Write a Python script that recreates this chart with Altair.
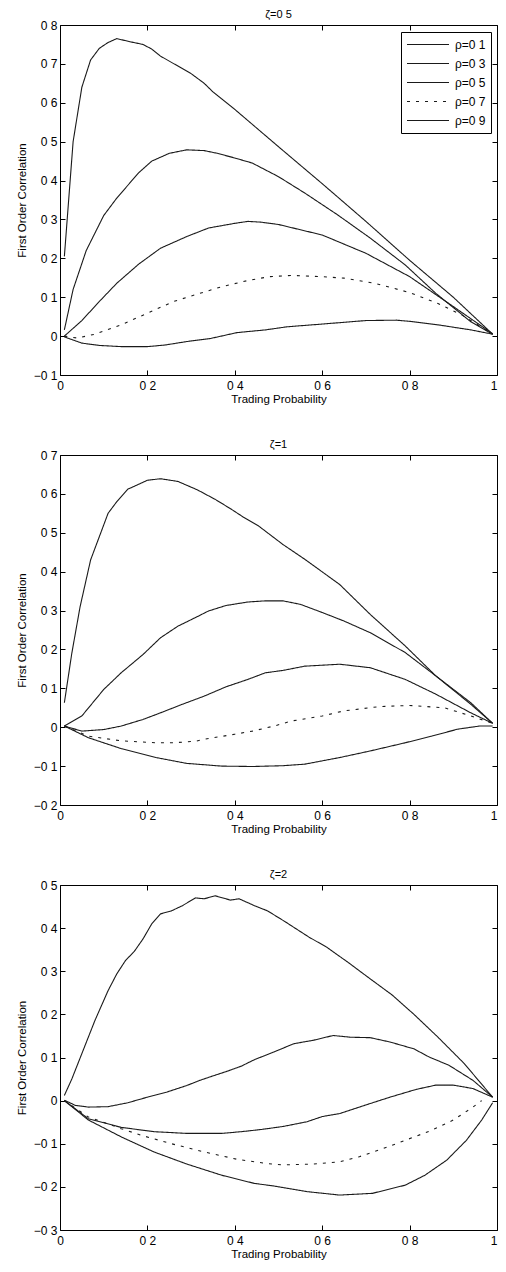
import altair as alt
import pandas as pd

# ---------------- data ----------------
RHO_LABELS = ["ρ=0 1", "ρ=0 3", "ρ=0 5", "ρ=0 7", "ρ=0 9"]
ZETA_TITLES = ["ζ=0 5", "ζ=1", "ζ=2"]
X_TICKS = [0, 0.2, 0.4, 0.6, 0.8, 1.0]
Y_DOMAINS = [[-0.1, 0.8], [-0.2, 0.7], [-0.3, 0.5]]
Y_TICKS = [
    [-0.1, 0, 0.1, 0.2, 0.3, 0.4, 0.5, 0.6, 0.7, 0.8],
    [-0.2, -0.1, 0, 0.1, 0.2, 0.3, 0.4, 0.5, 0.6, 0.7],
    [-0.3, -0.2, -0.1, 0, 0.1, 0.2, 0.3, 0.4, 0.5],
]

# zeta = 0.5
Z05_R1_X = [0.01, 0.03, 0.05, 0.07, 0.09, 0.11, 0.13, 0.16, 0.19, 0.21, 0.23, 0.30, 0.33, 0.35, 0.40, 0.50, 0.60, 0.70, 0.80, 0.90, 0.99]
Z05_R1_Y = [0.205, 0.50, 0.64, 0.71, 0.74, 0.755, 0.765, 0.757, 0.75, 0.738, 0.72, 0.675, 0.65, 0.628, 0.583, 0.487, 0.392, 0.295, 0.195, 0.10, 0.005]
Z05_R3_X = [0.01, 0.03, 0.06, 0.10, 0.13, 0.18, 0.21, 0.25, 0.29, 0.33, 0.36, 0.40, 0.44, 0.50, 0.56, 0.635, 0.71, 0.79, 0.86, 0.94, 0.99]
Z05_R3_Y = [0.016, 0.12, 0.22, 0.31, 0.355, 0.42, 0.45, 0.47, 0.479, 0.477, 0.47, 0.458, 0.445, 0.41, 0.368, 0.312, 0.252, 0.183, 0.11, 0.037, 0.005]
Z05_R5_X = [0.01, 0.05, 0.09, 0.13, 0.18, 0.23, 0.29, 0.34, 0.40, 0.43, 0.46, 0.50, 0.60, 0.70, 0.80, 0.90, 0.99]
Z05_R5_Y = [0.0, 0.04, 0.089, 0.136, 0.185, 0.226, 0.256, 0.278, 0.29, 0.295, 0.293, 0.287, 0.26, 0.213, 0.153, 0.076, 0.006]
Z05_R7_X = [0.01, 0.04, 0.08, 0.14, 0.20, 0.26, 0.32, 0.37, 0.43, 0.48, 0.53, 0.60, 0.65, 0.72, 0.80, 0.865, 0.92, 0.99]
Z05_R7_Y = [0.0, -0.005, 0.005, 0.029, 0.059, 0.089, 0.11, 0.127, 0.143, 0.153, 0.156, 0.153, 0.149, 0.136, 0.112, 0.084, 0.054, 0.005]
Z05_R9_X = [0.01, 0.05, 0.09, 0.14, 0.20, 0.24, 0.29, 0.345, 0.405, 0.47, 0.52, 0.60, 0.70, 0.77, 0.80, 0.865, 0.94, 0.99]
Z05_R9_Y = [-0.002, -0.018, -0.024, -0.027, -0.027, -0.023, -0.014, -0.006, 0.009, 0.016, 0.024, 0.031, 0.04, 0.041, 0.038, 0.029, 0.016, 0.005]

# zeta = 1
Z1_R1_X = [0.01, 0.027, 0.046, 0.07, 0.09, 0.11, 0.13, 0.155, 0.20, 0.23, 0.27, 0.315, 0.355, 0.39, 0.42, 0.455, 0.51, 0.56, 0.64, 0.71, 0.79, 0.86, 0.94, 0.99]
Z1_R1_Y = [0.063, 0.19, 0.31, 0.43, 0.49, 0.55, 0.58, 0.612, 0.635, 0.639, 0.632, 0.61, 0.586, 0.562, 0.54, 0.517, 0.47, 0.432, 0.367, 0.29, 0.209, 0.132, 0.059, 0.01]
Z1_R3_X = [0.01, 0.05, 0.10, 0.14, 0.19, 0.23, 0.27, 0.31, 0.34, 0.38, 0.43, 0.47, 0.51, 0.55, 0.60, 0.65, 0.71, 0.79, 0.86, 0.94, 0.99]
Z1_R3_Y = [0.003, 0.029, 0.097, 0.14, 0.187, 0.23, 0.26, 0.282, 0.299, 0.313, 0.322, 0.325, 0.325, 0.316, 0.295, 0.273, 0.243, 0.192, 0.132, 0.063, 0.01]
Z1_R5_X = [0.01, 0.05, 0.10, 0.14, 0.19, 0.23, 0.28, 0.33, 0.38, 0.43, 0.47, 0.51, 0.56, 0.64, 0.71, 0.79, 0.86, 0.94, 0.99]
Z1_R5_Y = [0.003, -0.01, -0.006, 0.003, 0.02, 0.037, 0.059, 0.08, 0.104, 0.123, 0.14, 0.146, 0.157, 0.162, 0.153, 0.123, 0.085, 0.037, 0.01]
Z1_R7_X = [0.01, 0.065, 0.14, 0.22, 0.26, 0.31, 0.33, 0.40, 0.44, 0.49, 0.53, 0.60, 0.65, 0.73, 0.80, 0.88, 0.94, 0.99]
Z1_R7_Y = [0.003, -0.023, -0.035, -0.04, -0.04, -0.036, -0.031, -0.018, -0.01, 0.003, 0.016, 0.029, 0.042, 0.053, 0.056, 0.05, 0.029, 0.01]
Z1_R9_X = [0.01, 0.065, 0.14, 0.22, 0.29, 0.37, 0.44, 0.51, 0.56, 0.64, 0.71, 0.79, 0.85, 0.91, 0.96, 0.99]
Z1_R9_Y = [0.003, -0.027, -0.055, -0.078, -0.093, -0.1, -0.101, -0.099, -0.095, -0.078, -0.061, -0.04, -0.023, -0.005, 0.003, 0.003]

# zeta = 2
Z2_R1_X = [0.01, 0.027, 0.05, 0.08, 0.11, 0.13, 0.15, 0.17, 0.19, 0.21, 0.23, 0.255, 0.28, 0.31, 0.33, 0.355, 0.39, 0.41, 0.445, 0.475, 0.515, 0.57, 0.61, 0.66, 0.705, 0.76, 0.81, 0.865, 0.925, 0.99]
Z2_R1_Y = [0.012, 0.05, 0.109, 0.186, 0.255, 0.294, 0.325, 0.346, 0.375, 0.41, 0.433, 0.44, 0.452, 0.47, 0.468, 0.475, 0.465, 0.468, 0.452, 0.44, 0.415, 0.379, 0.356, 0.32, 0.286, 0.245, 0.2, 0.147, 0.086, 0.008]
Z2_R3_X = [0.01, 0.035, 0.065, 0.11, 0.155, 0.20, 0.245, 0.29, 0.32, 0.355, 0.385, 0.415, 0.445, 0.49, 0.535, 0.58, 0.625, 0.665, 0.71, 0.755, 0.81, 0.845, 0.89, 0.945, 0.99]
Z2_R3_Y = [0.001, -0.011, -0.015, -0.014, -0.005, 0.008, 0.02, 0.035, 0.047, 0.059, 0.069, 0.08, 0.095, 0.113, 0.132, 0.14, 0.151, 0.147, 0.146, 0.136, 0.12, 0.101, 0.082, 0.047, 0.008]
Z2_R5_X = [0.01, 0.065, 0.14, 0.215, 0.29, 0.37, 0.415, 0.46, 0.51, 0.565, 0.60, 0.64, 0.70, 0.755, 0.815, 0.86, 0.90, 0.945, 0.99]
Z2_R5_Y = [0.0, -0.042, -0.062, -0.072, -0.076, -0.076, -0.072, -0.067, -0.06, -0.049, -0.037, -0.03, -0.01, 0.008, 0.026, 0.036, 0.036, 0.028, 0.008]
Z2_R7_X = [0.01, 0.065, 0.14, 0.185, 0.255, 0.33, 0.405, 0.475, 0.51, 0.58, 0.64, 0.685, 0.74, 0.79, 0.85, 0.90, 0.945, 0.965]
Z2_R7_Y = [0.0, -0.038, -0.065, -0.08, -0.1, -0.119, -0.136, -0.146, -0.149, -0.147, -0.142, -0.13, -0.111, -0.092, -0.069, -0.045, -0.015, 0.0]
Z2_R9_X = [0.01, 0.065, 0.14, 0.215, 0.29, 0.37, 0.445, 0.49, 0.565, 0.64, 0.715, 0.79, 0.835, 0.885, 0.93, 0.965, 0.99]
Z2_R9_Y = [0.0, -0.045, -0.084, -0.119, -0.147, -0.173, -0.192, -0.198, -0.211, -0.219, -0.215, -0.196, -0.173, -0.138, -0.092, -0.045, -0.005]

PANELS = [
    ([Z05_R1_X, Z05_R3_X, Z05_R5_X, Z05_R7_X, Z05_R9_X], [Z05_R1_Y, Z05_R3_Y, Z05_R5_Y, Z05_R7_Y, Z05_R9_Y]),
    ([Z1_R1_X, Z1_R3_X, Z1_R5_X, Z1_R7_X, Z1_R9_X], [Z1_R1_Y, Z1_R3_Y, Z1_R5_Y, Z1_R7_Y, Z1_R9_Y]),
    ([Z2_R1_X, Z2_R3_X, Z2_R5_X, Z2_R7_X, Z2_R9_X], [Z2_R1_Y, Z2_R3_Y, Z2_R5_Y, Z2_R7_Y, Z2_R9_Y]),
]
PANEL_HEIGHTS = [350, 350, 345]

# ---------------- styling ----------------
FONT = "Liberation Sans"
INK = "#1a1a1a"
DASHES = [[1, 0], [1, 0], [1, 0], [3, 6], [1, 0]]
LABEL_EXPR = ("datum.value == 0 ? '0' : datum.value == 1 ? '1' : "
              "replace(format(datum.value, '.1f'), '.', ' ')")
PLOT_W = 437


def build_df(xs_list, ys_list):
    rows = []
    for label, xs, ys in zip(RHO_LABELS, xs_list, ys_list):
        for i, (x, y) in enumerate(zip(xs, ys)):
            rows.append({"p": x, "r": y, "rho": label, "ord": i})
    return pd.DataFrame(rows)


def make_legend():
    return alt.Legend(
        title=None, orient="none", legendX=PLOT_W - 96, legendY=7, direction="vertical",
        symbolType="stroke", symbolSize=1764, symbolStrokeWidth=1.1,
        clipHeight=15, rowPadding=4, padding=5, labelOffset=5,
        labelFontSize=12, labelFont=FONT, labelColor="#000",
        strokeColor="#000", fillColor="#ffffff",
    )


def panel(df, title, ydom, yticks, height):
    xscale = alt.Scale(domain=[0, 1], nice=False, zero=False)
    yscale = alt.Scale(domain=ydom, nice=False, zero=False)
    base = alt.Chart(df)
    lines = base.mark_line(strokeWidth=1.1).encode(
        x=alt.X("p:Q", scale=xscale,
                axis=alt.Axis(orient="bottom", values=X_TICKS, labelExpr=LABEL_EXPR,
                              labelAlign={"condition": {"test": "datum.value >= 1", "value": "right"},
                                          "value": "center"},
                              title="Trading Probability", offset=-5, tickSize=5,
                              labelPadding=5, titlePadding=2, domain=False, grid=False,
                              minExtent=0)),
        y=alt.Y("r:Q", scale=yscale,
                axis=alt.Axis(orient="left", values=yticks, labelExpr=LABEL_EXPR,
                              title="First Order Correlation", offset=-5, tickSize=5,
                              labelPadding=3, titlePadding=6, domain=False, grid=False,
                              minExtent=0)),
        color=alt.Color("rho:N", scale=alt.Scale(domain=RHO_LABELS, range=[INK] * 5),
                        legend=make_legend()),
        strokeDash=alt.StrokeDash("rho:N", scale=alt.Scale(domain=RHO_LABELS, range=DASHES),
                                  legend=make_legend()),
        order="ord:Q",
    )
    frame_ticks = base.mark_point(opacity=0).encode(
        x=alt.X("p:Q", scale=xscale,
                axis=alt.Axis(orient="top", values=X_TICKS, labels=False, title=None,
                              offset=-5, tickSize=5, domain=False, grid=False,
                              minExtent=0, maxExtent=5)),
        y=alt.Y("r:Q", scale=yscale,
                axis=alt.Axis(orient="right", values=yticks, labels=False, title=None,
                              offset=-5, tickSize=5, domain=False, grid=False,
                              minExtent=0, maxExtent=5)),
    )
    return (
        alt.layer(lines, frame_ticks)
        .resolve_axis(x="independent", y="independent")
        .properties(width=PLOT_W, height=height,
                    title=alt.TitleParams(title, fontSize=11, font=FONT, fontWeight="normal",
                                          color="#000", offset=-1, anchor="middle"))
    )


charts = []
for (xs_list, ys_list), t, ydom, yt, h in zip(PANELS, ZETA_TITLES, Y_DOMAINS, Y_TICKS, PANEL_HEIGHTS):
    charts.append(panel(build_df(xs_list, ys_list), t, ydom, yt, h))

chart = (
    alt.vconcat(*charts, spacing=33)
    .properties(padding={"left": 7, "top": 0, "right": 0, "bottom": 0})
    .configure(font=FONT)
    .configure_view(stroke="#000", strokeWidth=1)
    .configure_axis(labelFont=FONT, labelFontSize=12, labelColor="#000",
                    titleFont=FONT, titleFontSize=11.5, titleFontWeight="normal",
                    titleColor="#000", tickColor="#000")
)

chart.save("out.html", embed_options={"renderer": "svg", "actions": False})
